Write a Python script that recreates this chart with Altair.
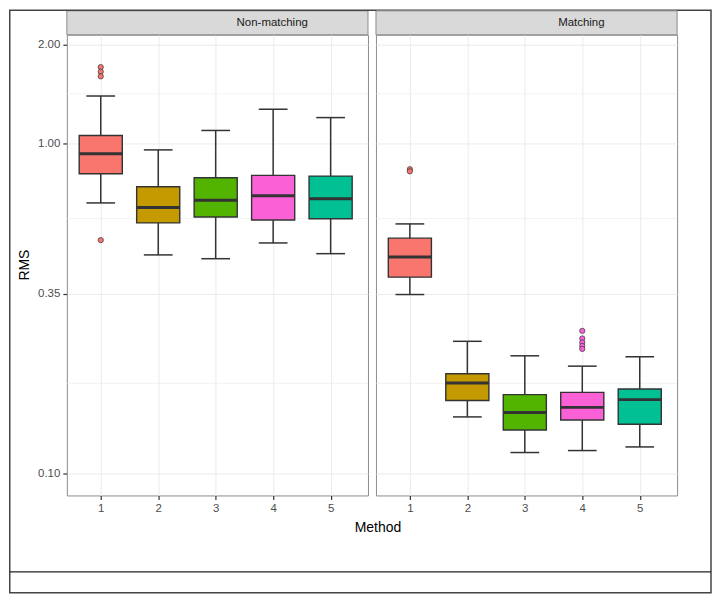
import math
import altair as alt
import pandas as pd

# ---------------- data ----------------
panels = ["Non-matching", "Matching"]
methods = [1, 2, 3, 4, 5]
colors = ["#F8766D", "#C49A00", "#53B400", "#FB61D7", "#00C094"]
y_ticks = [0.10, 0.35, 1.00, 2.00]
x_ticks = [1, 2, 3, 4, 5]

# Non-matching
nm_lower = [0.660, 0.459, 0.447, 0.499, 0.463]
nm_q1 = [0.809, 0.574, 0.598, 0.586, 0.591]
nm_median = [0.930, 0.639, 0.672, 0.694, 0.680]
nm_q3 = [1.057, 0.739, 0.787, 0.800, 0.796]
nm_upper = [1.393, 0.956, 1.095, 1.270, 1.198]
nm_out_method = [1, 1, 1, 1]
nm_out_value = [1.705, 1.651, 1.598, 0.509]

# Matching
m_lower = [0.348, 0.148, 0.1154, 0.117, 0.120]
m_q1 = [0.393, 0.166, 0.135, 0.1448, 0.1406]
m_median = [0.452, 0.1875, 0.1526, 0.1582, 0.167]
m_q3 = [0.516, 0.200, 0.173, 0.1757, 0.1798]
m_upper = [0.570, 0.251, 0.2268, 0.211, 0.2253]
m_out_method = [1, 1, 4, 4, 4, 4, 4]
m_out_value = [0.835, 0.823, 0.270, 0.256, 0.249, 0.243, 0.238]

# minor grid lines sit midway (log scale) between the labelled ticks
minor_vals = [math.sqrt(a * b) for a, b in zip(y_ticks[:-1], y_ticks[1:])]

FONT = "Liberation Sans"
PW, PH = 302, 462
xscale = alt.Scale(domain=[0.41, 5.65], nice=False, zero=False)
yscale = alt.Scale(type="log", domain=[0.0855, 2.137], nice=False)
fillscale = alt.Scale(domain=methods, range=colors)

xaxis = alt.Axis(values=x_ticks, format="d", title=None, grid=True,
                 gridColor="#EBEBEB", gridWidth=1, ticks=True, tickSize=4,
                 tickColor="#333333", tickWidth=1.2, domain=False,
                 labelFont=FONT, labelFontSize=11.5, labelColor="#4D4D4D",
                 labelPadding=3, labelFlush=False)


def yaxis(show):
    if show:
        return alt.Axis(values=y_ticks, format=".2f", title=None, grid=True,
                        gridColor="#EBEBEB", gridWidth=1, ticks=True, tickSize=4,
                        tickColor="#333333", tickWidth=1.2, domain=False,
                        labelFont=FONT, labelFontSize=11.5, labelColor="#4D4D4D",
                        labelPadding=3, labelFlush=False)
    return alt.Axis(values=y_ticks, title=None, grid=True, gridColor="#EBEBEB",
                    gridWidth=1, ticks=False, labels=False, domain=False)


def panel(name, lower, q1, med, q3, upper, om, ov, left):
    df = pd.DataFrame({"method": methods, "lower": lower, "q1": q1,
                       "median": med, "q3": q3, "upper": upper})
    dfo = pd.DataFrame({"method": om, "value": ov})
    dmin = pd.DataFrame({"v": minor_vals})
    ya = yaxis(left)

    def X(f):
        return alt.X(f, type="quantitative", scale=xscale, axis=xaxis)

    def Y(f):
        return alt.Y(f, type="quantitative", scale=yscale, axis=ya)

    base = alt.Chart(df).transform_calculate(
        bl="datum.method - 0.375", bh="datum.method + 0.375",
        cl="datum.method - 0.25", ch="datum.method + 0.25")

    minor = alt.Chart(dmin).mark_rule(color="#EBEBEB", strokeWidth=0.6).encode(y=Y("v"))
    whisk = base.mark_rule(color="#333333", strokeWidth=1.5).encode(
        x=X("method"), y=Y("lower"), y2="upper")
    cap_lo = base.mark_rule(color="#333333", strokeWidth=1.5).encode(
        x=X("cl"), x2="ch", y=Y("lower"))
    cap_hi = base.mark_rule(color="#333333", strokeWidth=1.5).encode(
        x=X("cl"), x2="ch", y=Y("upper"))
    box = base.mark_rect(stroke="#333333", strokeWidth=1.4).encode(
        x=X("bl"), x2="bh", y=Y("q1"), y2="q3",
        fill=alt.Fill("method:N", scale=fillscale, legend=None))
    median = base.mark_rule(color="#333333", strokeWidth=3).encode(
        x=X("bl"), x2="bh", y=Y("median"))
    outl = alt.Chart(dfo).mark_circle(size=28, opacity=1, stroke="#333333",
                                      strokeWidth=0.7).encode(
        x=X("method"), y=Y("value"),
        fill=alt.Fill("method:N", scale=fillscale, legend=None))

    sdf = pd.DataFrame({"t": [name]})
    strip = alt.Chart(sdf).mark_rect(fill="#D9D9D9", stroke="#8C8C8C", strokeWidth=1).encode(
        x=alt.value(0), x2=alt.value(PW), y=alt.value(-24), y2=alt.value(0))
    strip_text = alt.Chart(sdf).mark_text(font=FONT, fontSize=11.5, color="#1A1A1A",
                                          align="center", baseline="middle").encode(
        x=alt.value(206), y=alt.value(-12), text="t:N")

    layers = [minor, whisk, cap_lo, cap_hi, box, median, outl, strip, strip_text]

    if left:
        tdf = pd.DataFrame({"a": ["RMS"], "b": ["Method"]})
        ytitle = alt.Chart(tdf).mark_text(font=FONT, fontSize=14, color="#000000",
                                          angle=270, align="center",
                                          baseline="middle").encode(
            x=alt.value(-42), y=alt.value(231), text="a:N")
        xtitle = alt.Chart(tdf).mark_text(font=FONT, fontSize=14, color="#000000",
                                          align="center", baseline="middle").encode(
            x=alt.value(312), y=alt.value(495), text="b:N")
        frame = alt.Chart(tdf).mark_rect(fillOpacity=0, stroke="#444444",
                                         strokeWidth=1.5).encode(
            x=alt.value(-57.25), x2=alt.value(646), y=alt.value(-24.55),
            y2=alt.value(559.5))
        hline = alt.Chart(tdf).mark_rule(color="#222222", strokeWidth=1.3).encode(
            x=alt.value(-57.25), x2=alt.value(646), y=alt.value(538.7))
        layers += [ytitle, xtitle, frame, hline]

    return alt.layer(*layers).properties(width=PW, height=PH)


left = panel(panels[0], nm_lower, nm_q1, nm_median, nm_q3, nm_upper,
             nm_out_method, nm_out_value, True)
right = panel(panels[1], m_lower, m_q1, m_median, m_q3, m_upper,
              m_out_method, m_out_value, False)

chart = alt.hconcat(left, right, spacing=8, bounds="flush").configure(
    padding=0, background="white"
).configure_view(stroke="#8C8C8C", strokeWidth=1)

chart.save("out.html", embed_options={"renderer": "svg", "actions": False})
